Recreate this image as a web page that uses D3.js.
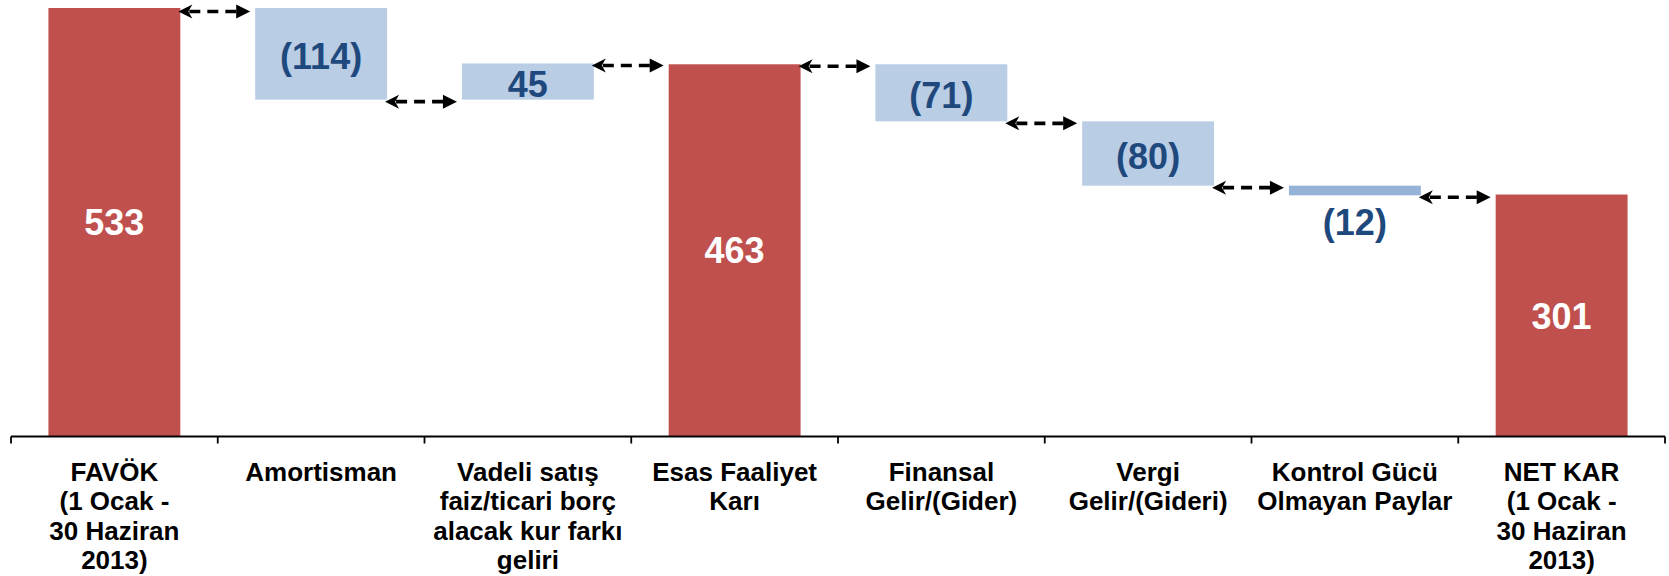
<!DOCTYPE html>
<html lang="tr">
<head>
<meta charset="utf-8">
<title>FAVÖK'ten Net Kâra Köprü</title>
<script src="https://cdn.jsdelivr.net/npm/d3@7"></script>
<style>
  html, body { margin: 0; padding: 0; background: #ffffff; }
  svg { display: block; }
  text { font-family: "Liberation Sans", Arial, Helvetica, sans-serif; font-weight: bold; }
</style>
</head>
<body>
<svg id="chart" width="1669" height="576"></svg>
<script>
// Category labels, one entry per line of the wrapped label
const categories = [
  ["FAVÖK", "(1 Ocak -", "30 Haziran", "2013)"],
  ["Amortisman"],
  ["Vadeli satış", "faiz/ticari borç", "alacak kur farkı", "geliri"],
  ["Esas Faaliyet", "Karı"],
  ["Finansal", "Gelir/(Gider)"],
  ["Vergi", "Gelir/(Gideri)"],
  ["Kontrol Gücü", "Olmayan Paylar"],
  ["NET KAR", "(1 Ocak -", "30 Haziran", "2013)"]
];
// Values (milyon TL); totals stand on the axis, changes float from the running total
const values = [533, -114, 45, 463, -71, -80, -12, 301];
const isTotal = [true, false, false, true, false, false, false, true];

const W = 1669, H = 576;
const axisY = 436.5, topY = 8;
const svg = d3.select("#chart");
svg.append("rect").attr("width", W).attr("height", H).attr("fill", "#ffffff");

const keys = categories.map((c, i) => i);
const x = d3.scaleBand().domain(keys).range([11, 1665]).padding(0);
const barW = x.bandwidth() * 0.638;
const y = d3.scaleLinear().domain([0, 533]).range([axisY, topY]);

// running totals: each bar spans [start, end]
let running = 0;
const bars = values.map((v, i) => {
  let start, end;
  if (isTotal[i]) { start = 0; end = v; }
  else { start = running; end = running + v; }
  running = end;
  const cx = x(i) + x.bandwidth() / 2;
  return { i, v, start, end, total: isTotal[i], x0: cx - barW / 2, x1: cx + barW / 2, cx,
           yTop: y(Math.max(start, end)), yBot: y(Math.min(start, end)) };
});

const RED = "#C0504D", BLUE = "#B9CDE5", BLUE_STRONG = "#95B3D7", TEXT_BLUE = "#1F497D";
const valueFont = 36;

// bars
svg.append("g").selectAll("rect").data(bars).join("rect")
  .attr("x", d => d.x0)
  .attr("y", d => d.yTop)
  .attr("width", d => d.x1 - d.x0)
  .attr("height", d => d.yBot - d.yTop)
  .attr("fill", d => d.total ? RED : ((d.yBot - d.yTop) < valueFont ? BLUE_STRONG : BLUE));

// value labels: inside the bar, or below it when the bar is too thin
const fmt = v => v < 0 ? "(" + Math.abs(v) + ")" : String(v);
svg.append("g").selectAll("text").data(bars).join("text")
  .attr("x", d => d.cx)
  .attr("y", d => {
    const h = d.yBot - d.yTop;
    if (h < valueFont) return d.yBot + 40;
    return (d.yTop + d.yBot) / 2 + 13 + (d.total ? 0 : 2);
  })
  .attr("text-anchor", "middle")
  .attr("font-size", valueFont)
  .attr("fill", d => d.total ? "#ffffff" : TEXT_BLUE)
  .text(d => fmt(d.v));

// dashed double-headed connectors between neighbouring bars
const links = d3.pairs(bars).map(([a, b]) => ({
  xa: a.x1 - 2, xb: b.x0 - 5, yy: Math.max(y(a.end) + 2, 11.5)
}));
const lg = svg.append("g");
const headL = 14, headH = 7;
links.forEach(l => {
  lg.append("line")
    .attr("x1", l.xa + 11).attr("x2", l.xb - 11)
    .attr("y1", l.yy).attr("y2", l.yy)
    .attr("stroke", "#000").attr("stroke-width", 3.6)
    .attr("stroke-dasharray", "11,7");
  lg.append("path")
    .attr("d", `M${l.xa},${l.yy} L${l.xa + headL},${l.yy - headH} L${l.xa + 10},${l.yy} L${l.xa + headL},${l.yy + headH} Z`)
    .attr("fill", "#000");
  lg.append("path")
    .attr("d", `M${l.xb},${l.yy} L${l.xb - headL},${l.yy - headH} L${l.xb - headL},${l.yy + headH} Z`)
    .attr("fill", "#000");
});

// category axis: baseline with ticks on band boundaries
const ax = svg.append("g");
ax.append("line")
  .attr("x1", x.range()[0]).attr("x2", x.range()[1])
  .attr("y1", axisY).attr("y2", axisY)
  .attr("stroke", "#000").attr("stroke-width", 1.8);
const bounds = keys.map(k => x(k)).concat([x.range()[1]]);
ax.selectAll("line.tick").data(bounds).join("line")
  .attr("class", "tick")
  .attr("x1", d => d).attr("x2", d => d)
  .attr("y1", axisY).attr("y2", axisY + 7)
  .attr("stroke", "#000").attr("stroke-width", 1.8);

// category labels
const lab = ax.selectAll("text.cat").data(categories).join("text")
  .attr("class", "cat")
  .attr("text-anchor", "middle")
  .attr("font-size", 26)
  .attr("fill", "#000")
  .attr("transform", (d, i) => `translate(${x(i) + x.bandwidth() / 2},480.5)`);
lab.selectAll("tspan").data(d => d).join("tspan")
  .attr("x", 0)
  .attr("y", (d, j) => j * 29.6)
  .text(d => d);
</script>
</body>
</html>
